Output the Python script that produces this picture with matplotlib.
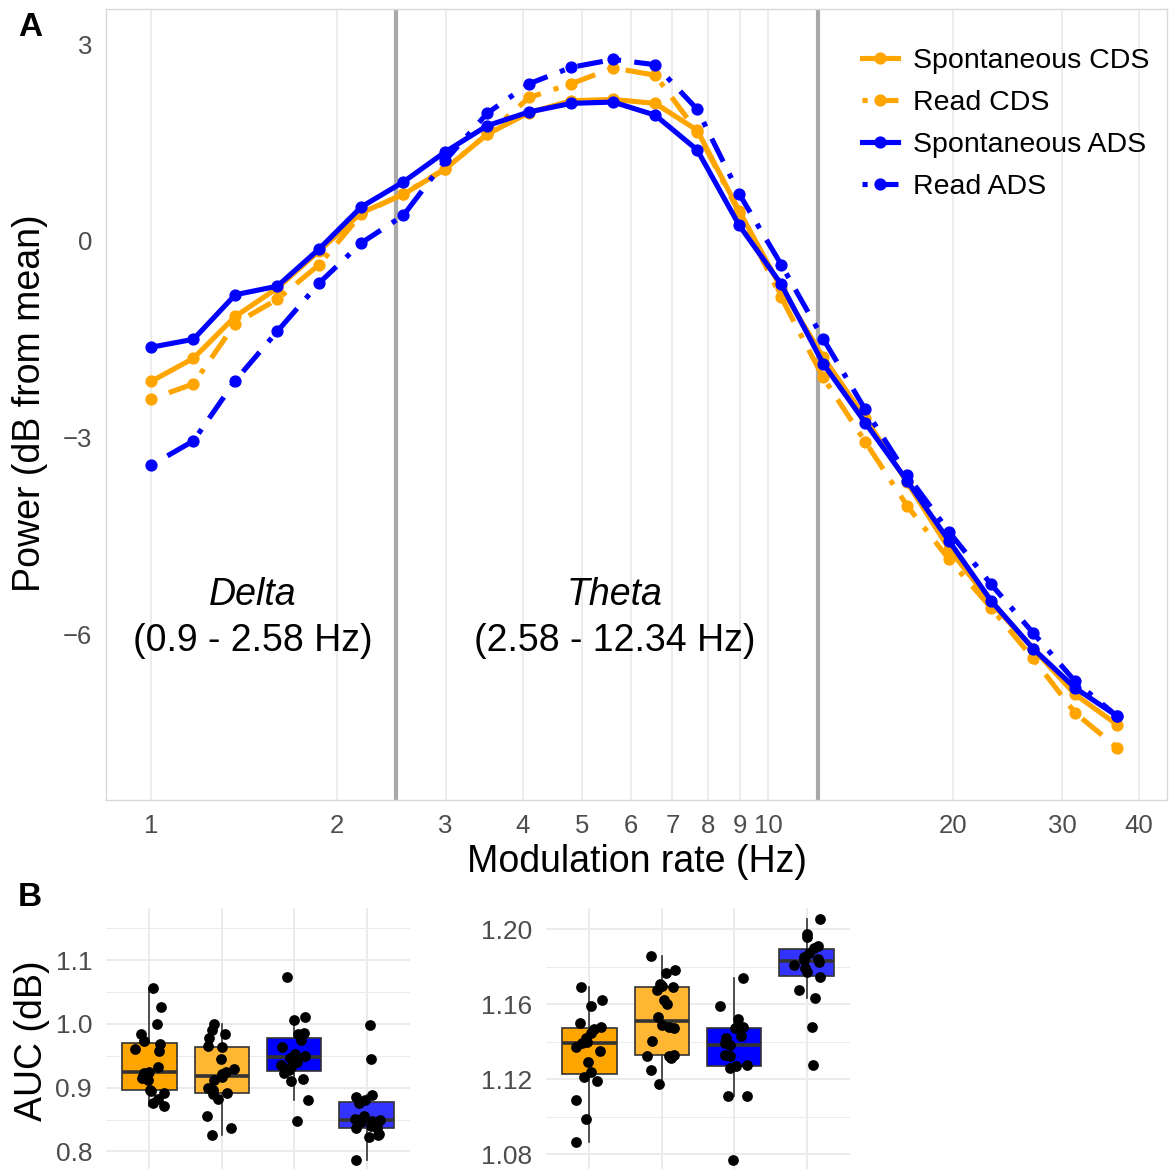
import numpy as np
import matplotlib
matplotlib.use("Agg")
import matplotlib.pyplot as plt
from matplotlib.ticker import FixedLocator, NullLocator

plt.rcParams['font.family'] = ['Liberation Sans', 'DejaVu Sans']

# ---------------- Data: panel A ----------------
freqs = [1.00, 1.17, 1.368, 1.60, 1.872, 2.19, 2.562, 2.997, 3.506, 4.101, 4.797, 5.612,
         6.565, 7.679, 8.983, 10.51, 12.29, 14.38, 16.82, 19.68, 23.02, 26.93, 31.50, 36.85]

spont_cds = [-2.14, -1.79, -1.15, -0.72, -0.15, 0.43, 0.71, 1.10, 1.63, 1.96, 2.14, 2.16,
             2.10, 1.69, 0.46, -0.72, -1.77, -2.70, -3.68, -4.70, -5.52, -6.22, -6.92, -7.38]
read_cds = [-2.41, -2.18, -1.26, -0.89, -0.36, 0.41, 0.72, 1.10, 1.63, 2.19, 2.40, 2.64,
            2.53, 1.67, 0.43, -0.86, -2.08, -3.06, -4.04, -4.86, -5.60, -6.37, -7.20, -7.73]
spont_ads = [-1.62, -1.50, -0.82, -0.69, -0.12, 0.52, 0.90, 1.36, 1.76, 1.97, 2.10, 2.12,
             1.92, 1.39, 0.24, -0.66, -1.87, -2.77, -3.66, -4.58, -5.49, -6.22, -6.82, -7.25]
read_ads = [-3.42, -3.05, -2.13, -1.38, -0.64, -0.03, 0.39, 1.23, 1.95, 2.40, 2.65, 2.77,
            2.69, 2.01, 0.72, -0.36, -1.49, -2.57, -3.57, -4.44, -5.24, -5.98, -6.72, -7.25]

series_names = ["Spontaneous CDS", "Read CDS", "Spontaneous ADS", "Read ADS"]
band_edges = [2.494, 12.05]
band_names = ["Delta", "Theta"]
band_ranges = ["(0.9 - 2.58 Hz)", "(2.58 - 12.34 Hz)"]
band_text_x = [1.461, 5.65]
xtick_vals = [1, 2, 3, 4, 5, 6, 7, 8, 9, 10, 20, 30, 40]
ytick_vals = [3, 0, -3, -6]

# ---------------- Data: panel B ----------------
delta_scds = [1.056, 1.027, 1.000, 0.985, 0.974, 0.968, 0.960, 0.957, 0.933, 0.925,
              0.923, 0.918, 0.915, 0.912, 0.897, 0.895, 0.892, 0.882, 0.876, 0.872]
delta_rcds = [1.000, 0.991, 0.984, 0.978, 0.966, 0.964, 0.945, 0.930, 0.925, 0.921,
              0.917, 0.912, 0.899, 0.896, 0.892, 0.890, 0.882, 0.856, 0.836, 0.826]
delta_sads = [1.073, 1.011, 1.006, 0.986, 0.984, 0.975, 0.964, 0.953, 0.950, 0.949,
              0.947, 0.940, 0.935, 0.933, 0.928, 0.923, 0.914, 0.910, 0.881, 0.848]
delta_rads = [0.998, 0.945, 0.889, 0.885, 0.880, 0.876, 0.855, 0.851, 0.850, 0.850,
              0.848, 0.846, 0.843, 0.840, 0.837, 0.836, 0.828, 0.826, 0.822, 0.787]

theta_scds = [1.1694, 1.162, 1.1593, 1.1502, 1.148, 1.1468, 1.1449, 1.142, 1.1397, 1.1392,
              1.1374, 1.135, 1.1294, 1.1236, 1.1214, 1.1188, 1.1086, 1.0988, 1.0864]
theta_rcds = [1.1858, 1.1783, 1.1765, 1.1708, 1.1700, 1.1690, 1.1676, 1.1623, 1.1602, 1.1534,
              1.1490, 1.1481, 1.1472, 1.1406, 1.1330, 1.1325, 1.1321, 1.1312, 1.125, 1.1175]
theta_sads = [1.1739, 1.1591, 1.152, 1.1481, 1.1472, 1.1428, 1.1419, 1.1392, 1.1383, 1.133,
              1.1321, 1.1276, 1.1268, 1.1259, 1.1111, 1.1108, 1.077]
theta_rads = [1.2055, 1.1973, 1.1961, 1.1911, 1.19, 1.1876, 1.185, 1.1842, 1.1836, 1.1828,
              1.181, 1.1792, 1.1774, 1.1744, 1.1676, 1.1632, 1.1476, 1.1273]

delta_yticks = [0.8, 0.9, 1.0, 1.1]
delta_minor = [0.85, 0.95, 1.05, 1.15]
theta_yticks = [1.08, 1.12, 1.16, 1.20]
theta_minor = [1.10, 1.14, 1.18]

# ---------------- Styles ----------------
ORANGE = "#FFA500"
BLUE = "#0000FF"
ORANGE_L = "#FFB733"
BLUE_L = "#3333FF"
GRID = "#EBEBEB"
TICKC = "#4D4D4D"
DOTDASH = (0, (1, 2.6, 5, 2.6))

W, H = 1171, 1169
fig = plt.figure(figsize=(W / 100, H / 100), dpi=100)


def fx(px):
    return px / W


def fy(py):
    return 1 - py / H


# ---------------- Panel A ----------------
axA = fig.add_axes([fx(106), fy(800), fx(1167 - 106), (800 - 9) / H])
axA.set_xscale('log')
axA.set_xlim(0.844, 44.4)
axA.set_ylim(-8.53, 3.54)

for xv in xtick_vals:
    axA.axvline(xv, color=GRID, lw=1.3, zorder=0)
for be in band_edges:
    axA.axvline(be, color="#A9A9A9", lw=3, zorder=1)

styles = [
    (spont_cds, ORANGE, '-'),
    (read_cds, ORANGE, DOTDASH),
    (spont_ads, BLUE, '-'),
    (read_ads, BLUE, DOTDASH),
]
for (vals, col, ls), name in zip(styles, series_names):
    axA.plot(freqs, vals, color=col, ls=ls, lw=3.7, marker='o', ms=7.8,
             label=name, zorder=3, solid_joinstyle='round')

axA.xaxis.set_major_locator(FixedLocator(xtick_vals))
axA.xaxis.set_minor_locator(NullLocator())
axA.set_xticklabels([str(v) for v in xtick_vals])
axA.set_yticks(ytick_vals)
axA.set_yticklabels(["3", "0", "\u22123", "\u22126"])
axA.tick_params(axis='both', length=0, labelsize=18.5, colors=TICKC, pad=10)
for sp in axA.spines.values():
    sp.set_color("#D9D9D9")
    sp.set_linewidth(1.0)

for bx, bn, br in zip(band_text_x, band_names, band_ranges):
    axA.text(bx, -5.40, bn, style='italic', fontsize=27, ha='center', va='center', color='black')
    axA.text(bx, -6.11, br, fontsize=27, ha='center', va='center', color='black')

leg = axA.legend(loc='upper left', bbox_to_anchor=(fx(862), fy(48)),
                 bbox_transform=fig.transFigure, frameon=False, fontsize=20.5,
                 handlelength=1.25, handletextpad=0.55, labelspacing=0.56,
                 borderaxespad=0, borderpad=0)

fig.text(fx(637), fy(862), "Modulation rate (Hz)", fontsize=27, ha='center', va='center')
fig.text(fx(30), fy(403), "Power (dB from mean)", fontsize=27, ha='center', va='center', rotation=90)
fig.text(fx(30), fy(28), "A", fontsize=24, fontweight='bold', ha='center', va='center')
fig.text(fx(30), fy(897), "B", fontsize=24, fontweight='bold', ha='center', va='center')

# ---------------- Panel B ----------------
rng = np.random.default_rng(7)


def boxpanel(ax, groups, ylim, yt, ylabels, yminor):
    ax.set_xlim(0.4, 4.6)
    ax.set_ylim(*ylim)
    for yv in yminor:
        ax.axhline(yv, color=GRID, lw=0.7, zorder=0)
    for yv in yt:
        ax.axhline(yv, color=GRID, lw=1.4, zorder=0)
    for xv in range(1, 5):
        ax.axvline(xv, color=GRID, lw=1.4, zorder=0)
    fills = [ORANGE, ORANGE_L, BLUE, BLUE_L]
    bp = ax.boxplot(groups, positions=[1, 2, 3, 4], widths=0.75, patch_artist=True,
                    showfliers=False, showcaps=False, whis=1.5,
                    medianprops=dict(color="#333333", lw=2.6),
                    whiskerprops=dict(color="#333333", lw=1.2),
                    boxprops=dict(edgecolor="#333333", lw=1.2), zorder=2)
    for patch, fc in zip(bp['boxes'], fills):
        patch.set_facecolor(fc)
    for i, g in enumerate(groups):
        xs = (i + 1) + rng.uniform(-0.2, 0.2, len(g))
        ax.scatter(xs, g, s=60, color='black', zorder=4, linewidths=0)
    ax.set_yticks(yt)
    ax.set_yticklabels(ylabels)
    ax.set_xticks([1, 2, 3, 4])
    ax.set_xticklabels([])
    ax.tick_params(axis='both', length=0, labelsize=19, colors=TICKC, pad=10)
    for sp in ax.spines.values():
        sp.set_visible(False)


axB1 = fig.add_axes([fx(106), 0, fx(304), 261 / H])
boxpanel(axB1, [delta_scds, delta_rcds, delta_sads, delta_rads], (0.7724, 1.182),
         delta_yticks, ["0.8", "0.9", "1.0", "1.1"], delta_minor)
axB2 = fig.add_axes([fx(546), 0, fx(304), 261 / H])
boxpanel(axB2, [theta_scds, theta_rcds, theta_sads, theta_rads], (1.072, 1.2114),
         theta_yticks, ["1.08", "1.12", "1.16", "1.20"], theta_minor)

fig.text(fx(32), fy(1041), "AUC (dB)", fontsize=27, ha='center', va='center', rotation=90)

fig.savefig("out.png", dpi=100)
